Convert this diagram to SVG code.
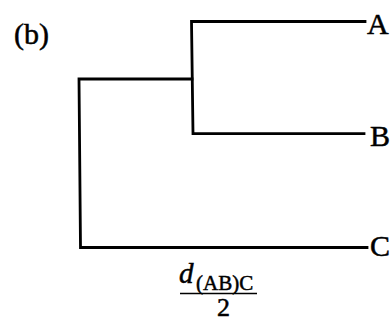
<svg xmlns="http://www.w3.org/2000/svg" width="392" height="322" viewBox="0 0 392 322">
<style>
.br{fill:none;stroke:#000;stroke-width:2.8;stroke-linecap:square;stroke-linejoin:miter}
.t{font-family:"Liberation Serif",serif;fill:#000;stroke:#000;stroke-width:0.5}
.leaf{font-size:30px}
</style>
<rect width="392" height="322" fill="#fff"/>
<text class="t" x="14" y="44" font-size="30">(b)</text>
<g id="connectors">
<path class="br" d="M365,21.5 H191.5 L193,133.7 H364"/>
<path class="br" d="M192,79 H79 L80.5,247.5 H367"/>
</g>
<g id="A"><text class="t leaf" x="367" y="34">A</text></g>
<g id="B"><text class="t leaf" x="370" y="146">B</text></g>
<g id="C"><text class="t leaf" x="370" y="256">C</text></g>
<g id="label">
<text class="t" x="179" y="283" font-size="29" font-style="italic">d</text>
<text class="t" x="196" y="290" font-size="21">(AB)C</text>
<line x1="180" y1="293.5" x2="257" y2="293.5" stroke="#000" stroke-width="1.6"/>
<text class="t" x="223.5" y="315.5" font-size="26" text-anchor="middle">2</text>
</g>
</svg>
